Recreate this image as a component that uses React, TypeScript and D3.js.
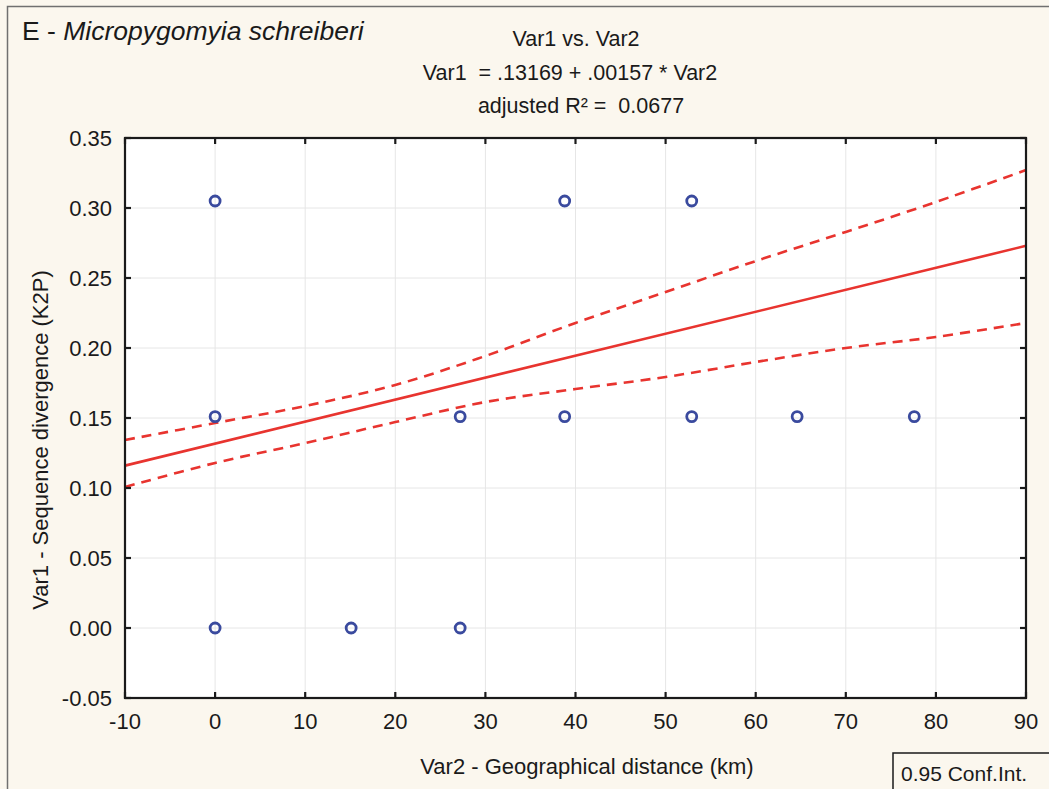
import React, { useEffect, useRef } from 'react';
import * as d3 from 'd3';

// scatter points (distance km, K2P divergence)
const pointX = [0, 38.8, 52.9, 0, 27.2, 38.8, 52.9, 64.6, 77.6, 0, 15.1, 27.2];
const pointY = [0.305, 0.305, 0.305, 0.151, 0.151, 0.151, 0.151, 0.151, 0.151, 0, 0, 0];

// regression line
const intercept = 0.13169;
const slope = 0.00157;

// 0.95 confidence band
const bandX = [-10, 0, 10, 20, 30, 40, 50, 60, 70, 80, 90];
const bandUpper = [0.1343, 0.1464, 0.1586, 0.1736, 0.1943, 0.2179, 0.2400, 0.2621, 0.2829, 0.3043, 0.3271];
const bandLower = [0.1007, 0.1179, 0.1321, 0.1471, 0.1614, 0.1707, 0.1793, 0.19, 0.2, 0.2079, 0.2179];

const xTicks = [-10, 0, 10, 20, 30, 40, 50, 60, 70, 80, 90];
const yTicks = [-0.05, 0, 0.05, 0.1, 0.15, 0.2, 0.25, 0.3, 0.35];

const App = () => {
  const svgRef = useRef(null);

  useEffect(() => {
    if (!svgRef.current) return;
    const svg = d3.select(svgRef.current);
    svg.selectAll('*').remove();

    const W = 1049, H = 789;
    const left = 125, right = 1026, top = 138, bottom = 698;
    const font = '"Liberation Sans", Arial, sans-serif';
    const ink = '#1a1a1a';

    const x = d3.scaleLinear().domain([-10, 90]).range([left, right]);
    const y = d3.scaleLinear().domain([-0.05, 0.35]).range([bottom, top]);
    const hyphen = (s: string) => s.replace('\u2212', '-');

    // page background + frame
    svg.append('rect').attr('width', W).attr('height', H).attr('fill', '#fbf7ee');
    svg.append('path').attr('d', `M7.5,${H}V6.5H${W}`).attr('fill', 'none')
      .attr('stroke', '#707070').attr('stroke-width', 1.5);

    // plot area
    svg.append('rect').attr('x', left).attr('y', top)
      .attr('width', right - left).attr('height', bottom - top).attr('fill', '#ffffff');

    // grid
    const grid = svg.append('g').attr('stroke', '#e6e6e6').attr('stroke-width', 1);
    xTicks.forEach(t => {
      grid.append('line').attr('x1', x(t)).attr('x2', x(t)).attr('y1', top).attr('y2', bottom);
    });
    yTicks.forEach(t => {
      grid.append('line').attr('x1', left).attr('x2', right).attr('y1', y(t)).attr('y2', y(t));
    });

    // confidence band + fit
    const band = d3.line().x(d => x(d[0])).y(d => y(d[1])).curve(d3.curveCatmullRom.alpha(0.5));
    const red = '#e8342f';
    [bandUpper, bandLower].forEach(arr => {
      svg.append('path')
        .datum(bandX.map((v, i) => [v, arr[i]]))
        .attr('d', band)
        .attr('fill', 'none')
        .attr('stroke', red)
        .attr('stroke-width', 2.6)
        .attr('stroke-dasharray', '10,7');
    });
    svg.append('line')
      .attr('x1', x(-10)).attr('y1', y(intercept + slope * -10))
      .attr('x2', x(90)).attr('y2', y(intercept + slope * 90))
      .attr('stroke', red).attr('stroke-width', 2.6);

    // points
    svg.append('g').selectAll('circle')
      .data(pointX.map((v, i) => [v, pointY[i]]))
      .join('circle')
      .attr('cx', d => x(d[0]))
      .attr('cy', d => y(d[1]))
      .attr('r', 5)
      .attr('fill', 'none')
      .attr('stroke', '#3a4a9e')
      .attr('stroke-width', 2.8);

    // frame and inward ticks
    svg.append('rect').attr('x', left).attr('y', top)
      .attr('width', right - left).attr('height', bottom - top)
      .attr('fill', 'none').attr('stroke', ink).attr('stroke-width', 2.2);
    const tk = svg.append('g').attr('stroke', ink).attr('stroke-width', 2.2);
    const tl = 6;
    xTicks.forEach(t => {
      tk.append('line').attr('x1', x(t)).attr('x2', x(t)).attr('y1', bottom).attr('y2', bottom - tl);
      tk.append('line').attr('x1', x(t)).attr('x2', x(t)).attr('y1', top).attr('y2', top + tl);
    });
    yTicks.forEach(t => {
      tk.append('line').attr('x1', left).attr('x2', left + tl).attr('y1', y(t)).attr('y2', y(t));
      tk.append('line').attr('x1', right).attr('x2', right - tl).attr('y1', y(t)).attr('y2', y(t));
    });

    // tick labels
    const txt = svg.append('g').attr('font-family', font).attr('fill', ink);
    xTicks.forEach(t => {
      txt.append('text').attr('x', x(t)).attr('y', 729).attr('text-anchor', 'middle')
        .attr('font-size', 22).text(hyphen(d3.format('d')(t)));
    });
    yTicks.forEach(t => {
      txt.append('text').attr('x', 112).attr('y', y(t) + 8).attr('text-anchor', 'end')
        .attr('font-size', 22).text(hyphen(d3.format('.2f')(t)));
    });

    // axis titles
    txt.append('text').attr('x', 587).attr('y', 774).attr('text-anchor', 'middle')
      .attr('font-size', 22).text('Var2 - Geographical distance (km)');
    txt.append('text').attr('transform', 'translate(48,440) rotate(-90)')
      .attr('text-anchor', 'middle').attr('font-size', 22)
      .text('Var1 - Sequence divergence (K2P)');

    // header
    const title = txt.append('text').attr('x', 22).attr('y', 40).attr('font-size', 26.5);
    title.append('tspan').text('E - ');
    title.append('tspan').attr('font-style', 'italic').text('Micropygomyia schreiberi');
    txt.append('text').attr('x', 576).attr('y', 46).attr('text-anchor', 'middle')
      .attr('font-size', 21.5).text('Var1 vs. Var2');
    txt.append('text').attr('x', 570).attr('y', 80).attr('text-anchor', 'middle')
      .attr('font-size', 21.5).style('white-space', 'pre')
      .text('Var1  = .13169 + .00157 * Var2');
    txt.append('text').attr('x', 581).attr('y', 113).attr('text-anchor', 'middle')
      .attr('font-size', 21.5).style('white-space', 'pre')
      .text('adjusted R\u00b2 =  0.0677');

    // legend box
    svg.append('rect').attr('x', 893).attr('y', 753).attr('width', 170).attr('height', 60)
      .attr('fill', '#fbf7ee').attr('stroke', ink).attr('stroke-width', 1.5);
    svg.append('text').attr('x', 901).attr('y', 781).attr('font-family', font)
      .attr('font-size', 21).attr('fill', ink).text('0.95 Conf.Int.');
  }, []);

  return (
    <svg ref={svgRef} width={1049} height={789}
      style={{ position: 'absolute', left: 0, top: 0, display: 'block' }} />
  );
};

export default App;
